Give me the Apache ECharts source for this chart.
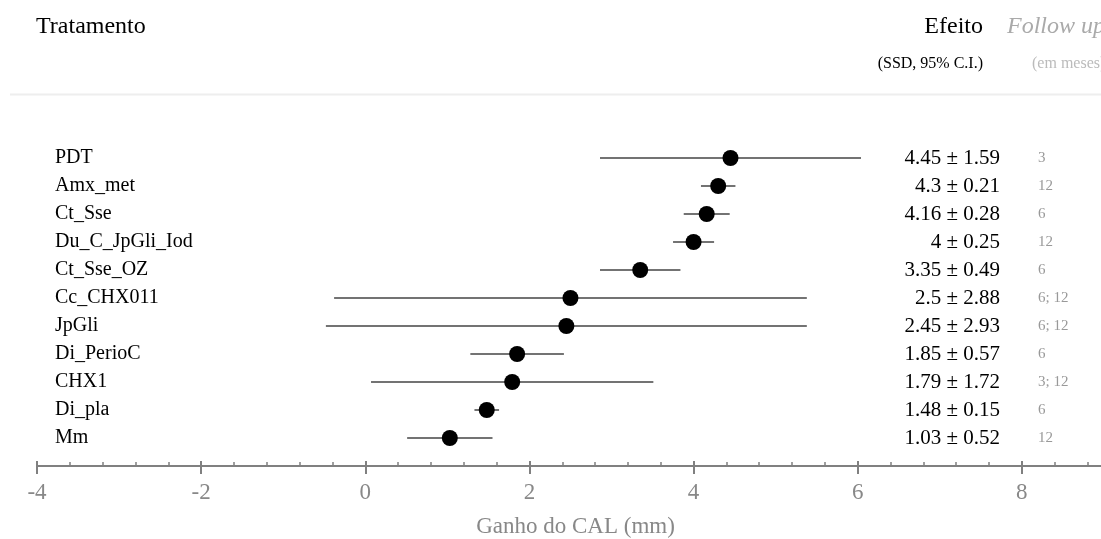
<!DOCTYPE html>
<html>
<head>
<meta charset="utf-8">
<script src="https://cdn.jsdelivr.net/npm/echarts@6/dist/echarts.min.js"></script>
<style>
  html, body { margin: 0; padding: 0; background: #fff; }
  #chart { width: 1101px; height: 539px; }
</style>
</head>
<body>
<div id="chart"></div>
<script>
const treatments = ['PDT', 'Amx_met', 'Ct_Sse', 'Du_C_JpGli_Iod', 'Ct_Sse_OZ', 'Cc_CHX011', 'JpGli', 'Di_PerioC', 'CHX1', 'Di_pla', 'Mm'];
const effects = [4.45, 4.3, 4.16, 4, 3.35, 2.5, 2.45, 1.85, 1.79, 1.48, 1.03];
const sds = [1.59, 0.21, 0.28, 0.25, 0.49, 2.88, 2.93, 0.57, 1.72, 0.15, 0.52];
const followUp = ['3', '12', '6', '12', '6', '6; 12', '6; 12', '6', '3; 12', '6', '12'];
const xMin = -4;
const xMax = 10;
const xStep = 2;

const serif = '"Liberation Serif", "DejaVu Serif", serif';
const axisGray = '#808080';

const dotData = effects.map((m, i) => [m, i]);
const barData = effects.map((m, i) => [m - sds[i], m + sds[i], i]);

const chart = echarts.init(document.getElementById('chart'));

chart.setOption({
  animation: false,
  grid: { left: 37, right: -85, top: 144, bottom: 87, containLabel: false, outerBoundsMode: 'none' },
  xAxis: [
    {
      type: 'value',
      min: xMin,
      max: xMax,
      interval: xStep,
      offset: 14,
      axisLine: { show: true, lineStyle: { color: axisGray, width: 2 } },
      axisTick: { show: true, inside: true, length: 5, lineStyle: { color: axisGray, width: 2 } },
      minorTick: { show: true, splitNumber: 5, length: 4, lineStyle: { color: axisGray, width: 1.5 } },
      axisLabel: { show: false },
      splitLine: { show: false }
    },
    {
      type: 'value',
      position: 'bottom',
      min: xMin,
      max: xMax,
      interval: xStep,
      offset: 14,
      axisLine: { show: false },
      axisTick: { show: true, inside: false, length: 8, lineStyle: { color: axisGray, width: 2 } },
      axisLabel: { color: '#888', fontSize: 23, fontFamily: serif, margin: 15 },
      splitLine: { show: false },
      name: 'Ganho do CAL (mm)',
      nameLocation: 'middle',
      nameGap: 49,
      nameTextStyle: { color: '#888', fontSize: 23, fontFamily: serif, padding: [0, 72, 0, 0] }
    }
  ],
  yAxis: [
    {
      type: 'category',
      data: treatments,
      inverse: true,
      position: 'left',
      offset: -18,
      axisLine: { show: false },
      axisTick: { show: false },
      axisLabel: { align: 'left', margin: 0, fontSize: 20, color: '#000', fontFamily: serif }
    },
    {
      type: 'category',
      data: treatments,
      inverse: true,
      position: 'left',
      offset: -963,
      axisLine: { show: false },
      axisTick: { show: false },
      axisLabel: {
        align: 'right', margin: 0, fontSize: 21, color: '#000', fontFamily: serif,
        formatter: (v, i) => effects[i] + ' \u00b1 ' + sds[i]
      }
    },
    {
      type: 'category',
      data: treatments,
      inverse: true,
      position: 'left',
      offset: -1001,
      axisLine: { show: false },
      axisTick: { show: false },
      axisLabel: {
        align: 'left', margin: 0, fontSize: 15, color: '#999', fontFamily: serif,
        formatter: (v, i) => followUp[i]
      }
    }
  ],
  graphic: [
    { type: 'text', left: 36, top: 15, style: { text: 'Tratamento', font: '24px ' + serif, fill: '#000' } },
    { type: 'text', x: 983, y: 15, style: { text: 'Efeito', font: '24px ' + serif, fill: '#000', align: 'right' } },
    { type: 'text', x: 1007, y: 15, style: { text: 'Follow up', font: 'italic 24px ' + serif, fill: '#aaa' } },
    { type: 'text', x: 983, y: 56, style: { text: '(SSD, 95% C.I.)', font: '16px ' + serif, fill: '#000', align: 'right' } },
    { type: 'text', x: 1032, y: 56, style: { text: '(em meses)', font: '16px ' + serif, fill: '#bbb' } },
    { type: 'line', shape: { x1: 10, y1: 94.5, x2: 1101, y2: 94.5 }, style: { stroke: '#eee', lineWidth: 2 } }
  ],
  series: [
    {
      type: 'custom',
      xAxisIndex: 0,
      yAxisIndex: 0,
      renderItem: (params, api) => {
        const a = api.coord([api.value(0), api.value(2)]);
        const b = api.coord([api.value(1), api.value(2)]);
        return {
          type: 'line',
          shape: { x1: a[0], y1: a[1], x2: b[0], y2: b[1] },
          style: { stroke: '#444', lineWidth: 1.5 }
        };
      },
      encode: { x: [0, 1], y: 2 },
      data: barData,
      z: 1
    },
    {
      type: 'scatter',
      xAxisIndex: 0,
      yAxisIndex: 0,
      symbol: 'circle',
      symbolSize: 16,
      itemStyle: { color: '#000', opacity: 1 },
      data: dotData,
      z: 2
    }
  ]
});
</script>
</body>
</html>
